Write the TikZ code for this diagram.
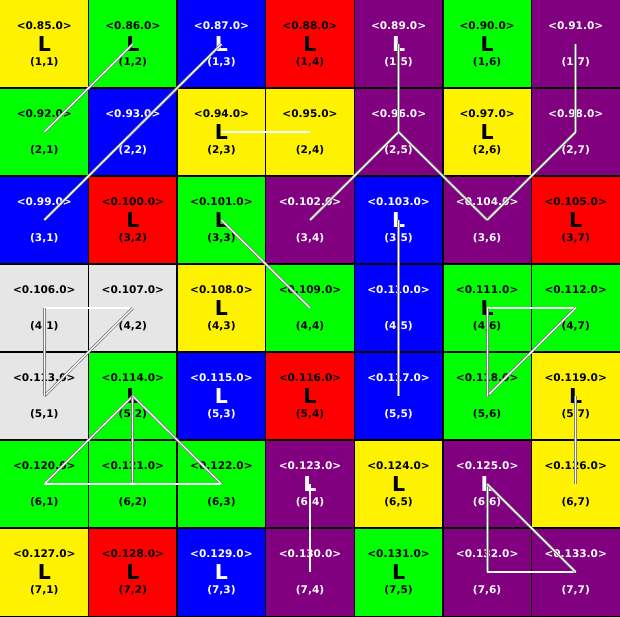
\documentclass[tikz,border=0pt]{standalone}
\usepackage{fontspec}
\setmainfont{DejaVu Sans}
\definecolor{pur}{RGB}{128,0,128}
\definecolor{lgr}{RGB}{230,230,230}
\begin{document}
\begin{tikzpicture}[x=0.03cm,y=-0.03cm,
    cell/.style={minimum width=2.657cm,minimum height=2.64cm,inner sep=0pt},
    edge/.style={draw=black,line width=0.9pt},
    yel/.style={fill=yellow,text=black},
    grn/.style={fill=green,text=black},
    blu/.style={fill=blue,text=white},
    rd/.style={fill=red,text=black},
    pr/.style={fill=pur,text=white},
    gr/.style={fill=lgr,text=black},
    tag/.style={font=\fontsize{9}{10}\selectfont\bfseries,inner sep=0pt},
    big/.style={font=\fontsize{17.5}{18}\selectfont\bfseries,inner sep=0pt},
    lnk/.style={draw=black!50,double=white,double distance=1pt,line width=0.7pt}]
  \useasboundingbox (0,0) rectangle (620,616);
  % the grid
  \foreach \row/\col/\f/\l in {
      1/1/yel/L,1/2/grn/L,1/3/blu/L,1/4/rd/L,1/5/pr/L,1/6/grn/L,1/7/pr/{},
      2/1/grn/{},2/2/blu/{},2/3/yel/L,2/4/yel/{},2/5/pr/{},2/6/yel/L,2/7/pr/{},
      3/1/blu/{},3/2/rd/L,3/3/grn/L,3/4/pr/{},3/5/blu/L,3/6/pr/{},3/7/rd/L,
      4/1/gr/{},4/2/gr/{},4/3/yel/L,4/4/grn/{},4/5/blu/{},4/6/grn/L,4/7/grn/{},
      5/1/gr/{},5/2/grn/L,5/3/blu/L,5/4/rd/L,5/5/blu/{},5/6/grn/{},5/7/yel/L,
      6/1/grn/{},6/2/grn/{},6/3/grn/{},6/4/pr/L,6/5/yel/L,6/6/pr/L,6/7/yel/{},
      7/1/yel/L,7/2/rd/L,7/3/blu/L,7/4/pr/{},7/5/grn/L,7/6/pr/{},7/7/pr/{}}{
    \pgfmathtruncatemacro\idx{85+7*(\row-1)+\col-1}
    \node[cell,\f] (c\row\col) at ({(\col-0.5)*88.571},{(\row-0.5)*88}) {};
    \node[tag,\f,fill=none] (t\row\col) at ({(\col-0.5)*88.571},{(\row-0.5)*88-18.5}) {<0.\idx.0>};
    \node[big,\f,fill=none] (l\row\col) at ({(\col-0.5)*88.571},{(\row-0.5)*88}) {\l};
    \node[tag,\f,fill=none] (p\row\col) at ({(\col-0.5)*88.571},{(\row-0.5)*88+18}) {(\row,\col)};
  }
  % cell borders on top of the fills
  \foreach \row in {1,...,7}
    \foreach \col in {1,...,7}
      \draw[edge] (c\row\col.north west) rectangle (c\row\col.south east);
  % the links
  \foreach \a/\b in {12/21,13/31,23/24,15/25,25/34,25/36,17/27,27/36,33/44,35/55,
      41/42,42/51,41/51,46/47,47/56,46/56,52/61,52/62,52/63,61/63,57/67,64/74,
      66/76,76/77,66/77}{
    \draw[lnk] (c\a.center) -- (c\b.center);
  }
\end{tikzpicture}
\end{document}
